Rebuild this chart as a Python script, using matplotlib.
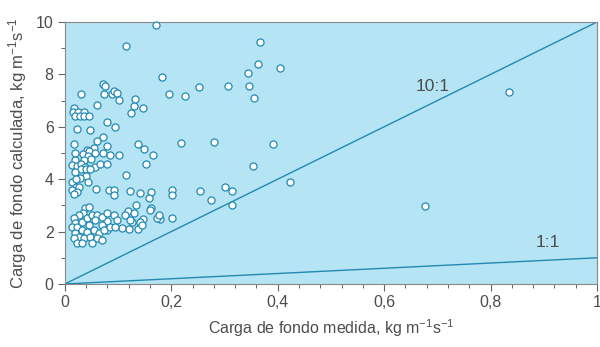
import numpy as np
import matplotlib.pyplot as plt
from matplotlib.ticker import MultipleLocator, FuncFormatter

plt.rcParams['font.family'] = ['Liberation Sans', 'DejaVu Sans']
plt.rcParams['mathtext.default'] = 'regular'

# carga de fondo medida (x) y calculada (y), kg m-1 s-1
medida = [0.171, 0.115, 0.182, 0.071, 0.075, 0.030, 0.073, 0.088, 0.092, 0.098,
          0.102, 0.132, 0.195, 0.226, 0.252, 0.306, 0.346, 0.344, 0.363, 0.367,
          0.355, 0.404, 0.060, 0.017, 0.130, 0.147, 0.124, 0.015, 0.024, 0.036,
          0.019, 0.028, 0.036, 0.045, 0.079, 0.094, 0.023, 0.047, 0.071, 0.060,
          0.017, 0.079, 0.137, 0.218, 0.280, 0.055, 0.148, 0.041, 0.353, 0.391,
          0.423, 0.677, 0.835,
          0.165, 0.019, 0.034, 0.045, 0.043, 0.056, 0.071, 0.085, 0.102, 0.019,
          0.036, 0.049, 0.013, 0.023, 0.030, 0.038, 0.056, 0.066, 0.079, 0.152,
          0.030, 0.039, 0.047, 0.019, 0.115, 0.039, 0.028, 0.013, 0.021, 0.043,
          0.021, 0.013, 0.026, 0.023, 0.017, 0.058, 0.083, 0.092, 0.092, 0.122,
          0.141, 0.162, 0.133, 0.158, 0.162, 0.038, 0.045,
          0.201, 0.201, 0.254, 0.301, 0.314, 0.274, 0.314, 0.179, 0.201, 0.173,
          0.147, 0.141, 0.126, 0.137, 0.120, 0.107, 0.079, 0.079, 0.118,
          0.034, 0.026, 0.017, 0.019, 0.013, 0.023, 0.032, 0.041, 0.051, 0.060,
          0.070, 0.079, 0.092, 0.098, 0.113, 0.122, 0.130, 0.145, 0.160, 0.177,
          0.056, 0.070, 0.045, 0.032, 0.041, 0.055, 0.064, 0.073, 0.085, 0.094,
          0.019, 0.026, 0.017, 0.036, 0.047, 0.060, 0.070, 0.023, 0.032, 0.051]
calculada = [9.89, 9.08, 7.90, 7.63, 7.56, 7.25, 7.25, 7.25, 7.37, 7.29,
             7.02, 7.06, 7.25, 7.18, 7.52, 7.56, 7.56, 8.05, 8.40, 9.24,
             7.10, 8.24, 6.83, 6.72, 6.79, 6.72, 6.53, 6.56, 6.56, 6.56,
             6.41, 6.41, 6.41, 6.41, 6.18, 5.99, 5.92, 5.88, 5.61, 5.46,
             5.34, 5.27, 5.34, 5.38, 5.42, 5.19, 5.15, 5.11, 4.50, 5.34,
             3.89, 2.98, 7.33,
             4.92, 5.00, 4.96, 5.08, 4.89, 5.00, 5.00, 4.92, 4.92, 4.73,
             4.73, 4.77, 4.54, 4.50, 4.58, 4.47, 4.47, 4.58, 4.58, 4.58,
             4.39, 4.39, 4.39, 4.27, 4.16, 4.12, 4.05, 3.89, 4.01, 3.89,
             3.70, 3.59, 3.70, 3.51, 3.44, 3.63, 3.59, 3.59, 3.40, 3.55,
             3.47, 3.51, 3.02, 3.28, 2.90, 2.90, 2.94,
             3.59, 3.40, 3.55, 3.70, 3.55, 3.21, 3.02, 2.48, 2.52, 2.52,
             2.48, 2.37, 2.37, 2.10, 2.10, 2.14, 2.40, 2.06, 2.79,
             2.71, 2.63, 2.52, 2.33, 2.18, 2.18, 2.37, 2.52, 2.63, 2.63,
             2.56, 2.71, 2.63, 2.44, 2.63, 2.44, 2.71, 2.25, 2.82, 2.63,
             2.44, 2.25, 2.25, 2.06, 1.98, 2.06, 1.95, 2.06, 2.18, 2.18,
             1.95, 1.79, 1.76, 1.76, 1.79, 1.76, 1.68, 1.56, 1.56, 1.56]

# reference lines: calculated = ratio * measured
ratios = [10, 1]
ratio_labels = ['10:1', '1:1']
label_pos = [(0.692, 7.52), (0.908, 1.60)]

teal = '#2189b3'
grey = '#4d4d4d'

fig = plt.figure(figsize=(6, 3.47), dpi=100)
ax = fig.add_axes([0.108, 0.1816, 0.887, 0.755])
ax.set_facecolor('#b5e4f4')

xs = np.array([0, 1])
for r, lab, pos in zip(ratios, ratio_labels, label_pos):
    ax.plot(xs, r * xs, color=teal, lw=1.0, zorder=2)
    ax.text(pos[0], pos[1], lab, fontsize=12.5, color=grey, ha='center', va='center')

ax.scatter(medida, calculada, s=26, facecolor='white', edgecolor=teal,
           linewidths=0.9, zorder=3, clip_on=False)

ax.set_xlim(0, 1)
ax.set_ylim(0, 10)
ax.xaxis.set_major_locator(MultipleLocator(0.2))
ax.xaxis.set_minor_locator(MultipleLocator(0.04))
ax.yaxis.set_major_locator(MultipleLocator(2))
ax.yaxis.set_minor_locator(MultipleLocator(1))
ax.xaxis.set_major_formatter(FuncFormatter(lambda v, p: ('%g' % round(v, 2)).replace('.', ',')))

ax.tick_params(which='major', length=5, width=0.8, color='#666666',
               labelsize=11.5, labelcolor=grey, pad=3)
ax.tick_params(which='minor', length=3, width=0.7, color='#666666')
for s in ax.spines.values():
    s.set_color('#888888')
    s.set_linewidth(0.8)

ax.set_xlabel('Carga de fondo medida, kg m$^{-1}$s$^{-1}$', fontsize=11.5, color=grey, labelpad=5)
ax.set_ylabel('Carga de fondo calculada, kg m$^{-1}$s$^{-1}$', fontsize=12, color=grey, labelpad=5)

plt.savefig('out.png', dpi=100)
